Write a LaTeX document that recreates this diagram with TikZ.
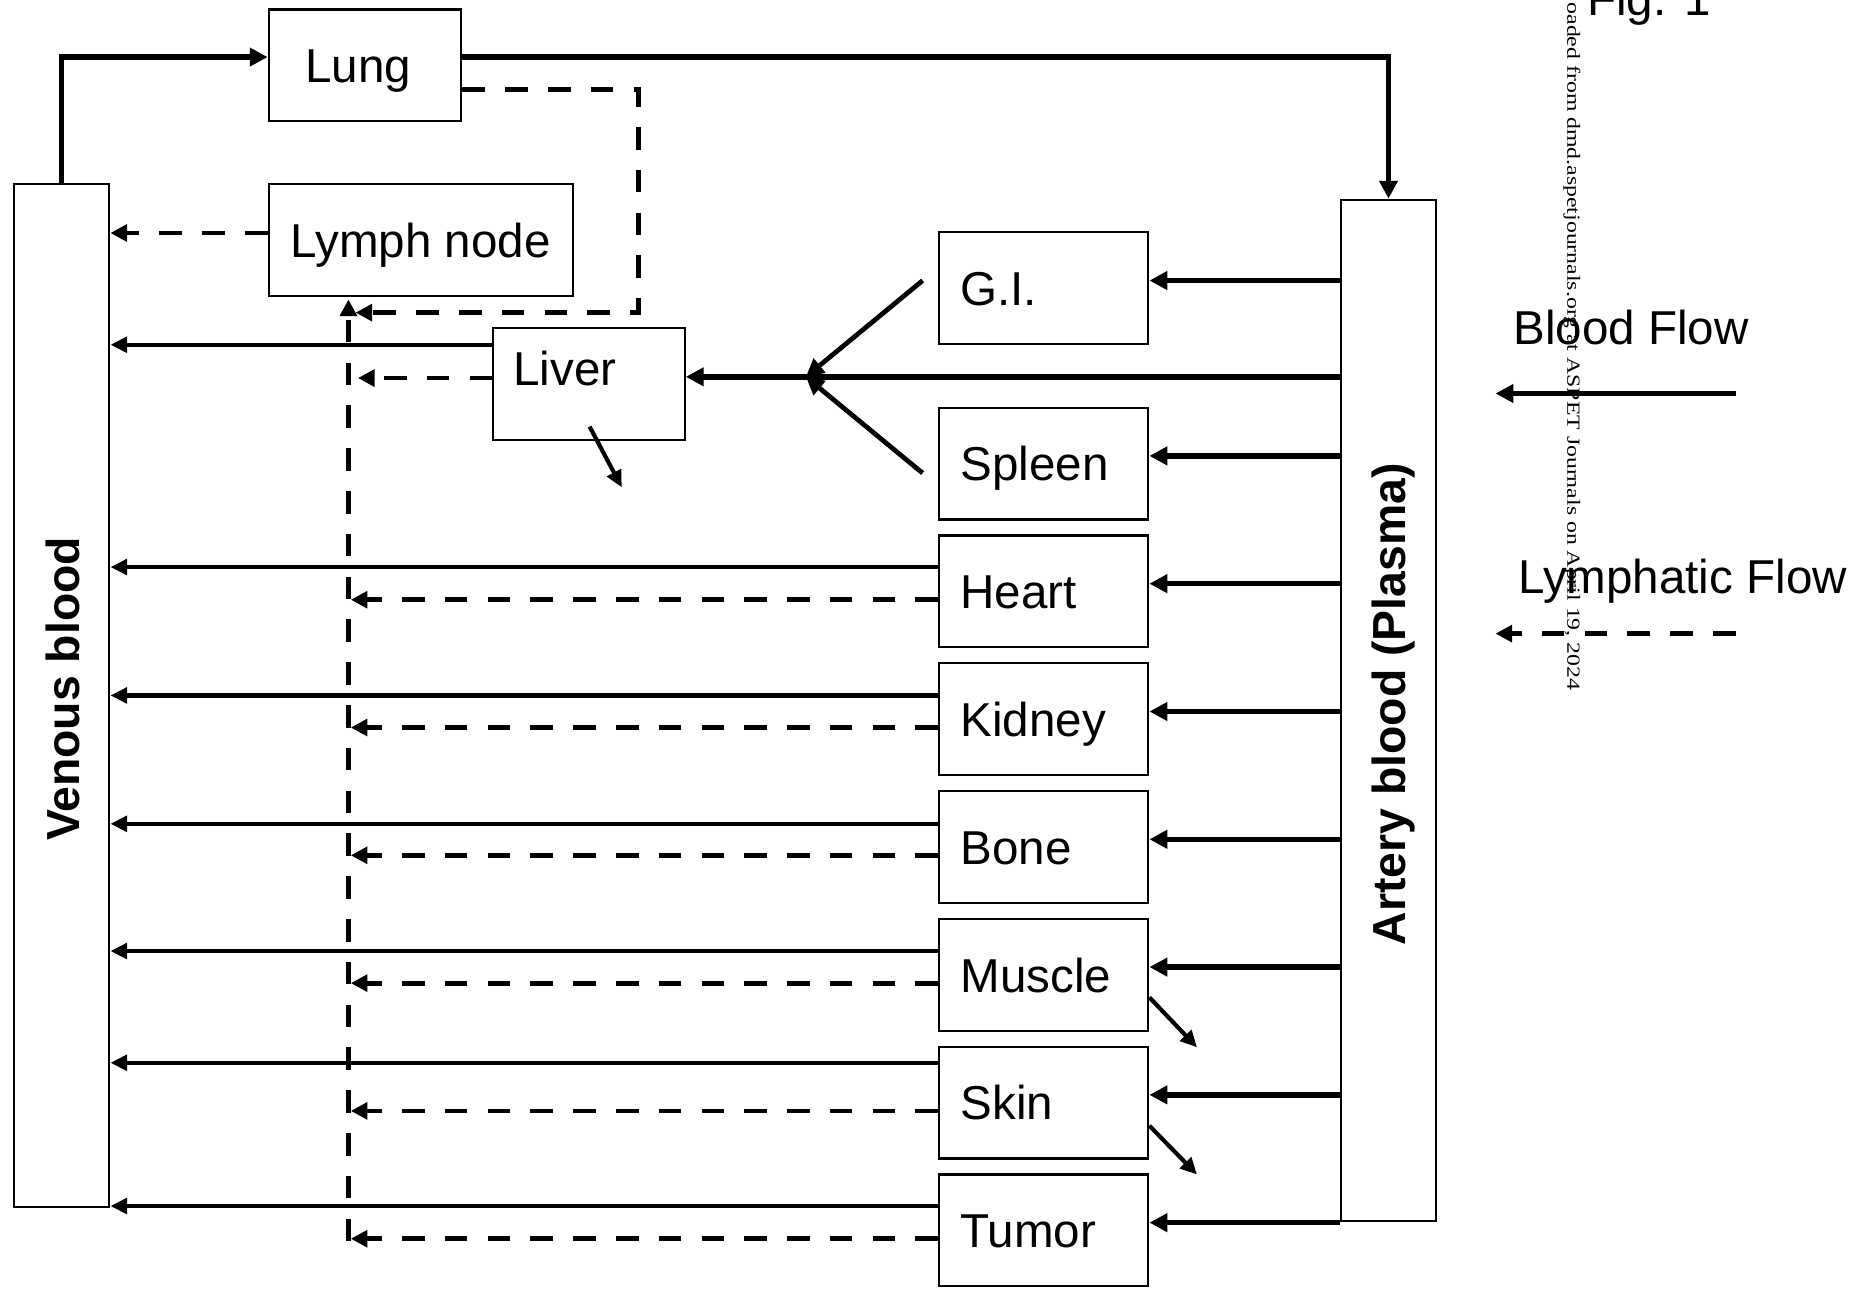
\documentclass[tikz,border=0pt]{standalone}
\usepackage{fontspec}
\setmainfont{Liberation Sans}
\newfontfamily\wmfont{Liberation Serif}
\usetikzlibrary{arrows.meta,calc}
\tikzset{
  every node/.style={font=\fontsize{40}{44}\selectfont, inner sep=0pt},
  box/.style={draw, line width=1.8pt, fill=white},
  organ/.style={box, minimum width=176pt, minimum height=94pt, text width=140pt, align=left, text height=29pt, text depth=0pt},
  art/.style={line width=4.5pt, -{Triangle[length=15pt,width=15pt]}},
  ven/.style={line width=3.5pt, -{Triangle[length=14pt,width=13pt]}},
  lym/.style={line width=4pt, dash pattern=on 19pt off 17pt, -{Triangle[length=14pt,width=14pt]}},
  vlabel/.style={rotate=90, font=\fontsize{39}{44}\selectfont\bfseries, text height=28pt, text depth=0pt},
}
\begin{document}
\begin{tikzpicture}[x=1pt,y=-1pt]
\useasboundingbox (0,0) rectangle (1568,1091);

% tall boxes
\node[box, minimum width=80pt, minimum height=860pt] (venous) at (52,585) {};
\node[box, minimum width=80pt, minimum height=859pt] (artery) at (1168,597.5) {};
\node[vlabel] (venlab) at (52.5,579.5) {Venous blood};
\node[vlabel] (artlab) at (1168,592.5) {Artery blood (Plasma)};

% upper boxes
\node[box, minimum width=162pt, minimum height=94pt, text width=100pt, align=left, text height=29pt, text depth=0pt] (lung) at (307,55) {Lung};
\node[box, minimum width=256pt, minimum height=94pt, text height=29pt, text depth=0pt] (lymph) at (354,202) {Lymph node};
\node[box, minimum width=161pt, minimum height=94pt, text width=127pt, align=left, text height=29pt, text depth=26pt] (liver) at (495.5,323) {Liver};

% organs
\foreach \n/\t/\y in {gi/G.I./242.5, spleen/Spleen/390, heart/Heart/497.5, kidney/Kidney/605, bone/Bone/712.5, muscle/Muscle/820, skin/Skin/927.5, tumor/Tumor/1035}
  \node[organ] (\n) at (878,\y) {\t};

\coordinate (lymcol) at ($(lymph.south west)+(68,0)$);

% venous -> lung -> artery
\coordinate (lungin) at ($(lung.west)+(0,-7)$);
\coordinate (lungout) at ($(lung.east)+(0,-7)$);
\draw[art] (venous.north) |- (lungin);
\draw[art] (lungout) -| (artery.north);

% lung lymph
\coordinate (lunglym) at ($(lung.east)+(0,20)$);
\coordinate (lungturn) at (537,263);
\draw[lym] (lunglym) -| (lungturn) -- ($(lungturn -| lymcol)+(6,0)$);

% lymph node -> venous
\coordinate (lymphV) at ($(lymph.west)+(0,-6)$);
\draw[lym] (lymphV) -- (lymphV -| venous.east);

% liver
\coordinate (liverV) at ($(liver.west)+(0,-33)$);
\draw[ven] (liverV) -- (liverV -| venous.east);
\coordinate (liverL) at ($(liver.west)+(0,-5)$);
\draw[lym] (liverL) -- ($(liverL -| lymcol)+(8,0)$);
\coordinate (liverA) at ($(liver.east)+(0,-6)$);
\draw[art] (liverA -| artery.west) -- (liverA);
\coordinate (junc) at ($(liverA)+(101,0)$);
\coordinate (giout) at ($(gi.west)+(-13,-6.5)$);
\coordinate (splout) at ($(spleen.west)+(-13,8)$);
\draw[art, line width=4pt] (giout) -- (junc);
\draw[art, line width=4pt] (splout) -- (junc);
\coordinate (livs) at ($(liver.south)+(0.5,-12)$);
\coordinate (live) at ($(livs)+(27,51)$);
\draw[ven] (livs) -- (live);

% arterial inputs
\foreach \n in {gi,spleen,heart,kidney,bone,muscle,skin,tumor} {
  \coordinate (\n-a) at ($(\n.east)+(0,-6.5)$);
  \draw[art] (\n-a -| artery.west) -- (\n-a);
}
% venous outputs
\foreach \n/\dy in {heart/-20.5, kidney/-20, bone/-19.5, muscle/-20, skin/-33.5, tumor/-20.5} {
  \coordinate (\n-v) at ($(\n.west)+(0,\dy)$);
  \draw[ven] (\n-v) -- (\n-v -| venous.east);
}
% lymph outputs
\foreach \n in {heart,kidney,bone,muscle,skin,tumor} {
  \coordinate (\n-l) at ($(\n.west)+(0,7)$);
  \draw[lym] (\n-l) -- ($(\n-l -| lymcol)+(2,0)$);
}
% lymph collector
\draw[lym] ($(tumor-l -| lymcol)+(0,2)$) -- ($(lymcol)+(0,2)$);

% small elimination arrows
\coordinate (mus) at ($(muscle.east)+(0,19)$);
\coordinate (mue) at ($(mus)+(40,42)$);
\draw[ven] (mus) -- (mue);
\coordinate (sks) at ($(skin.east)+(0,19.5)$);
\coordinate (ske) at ($(sks)+(40,41)$);
\draw[ven] (sks) -- (ske);

% legend
\node[anchor=base west] (bflab) at (1273,289.5) {Blood Flow};
\coordinate (bfs) at (1460,331);
\coordinate (bfe) at (1258,331);
\draw[art] (bfs) -- (bfe);
\node[anchor=base west] (lflab) at (1277,499) {Lymphatic Flow};
\coordinate (lfs) at (1460,533);
\coordinate (lfe) at (1258,533);
\draw[lym] (lfs) -- (lfe);

% figure label and watermark
\node[anchor=base west] (fig) at (1335,13) {Fig. 1};
\node[rotate=-90, anchor=base west, font=\wmfont\fontsize{20}{24}\selectfont] (wm) at (1318.5,2) {\scalebox{1}[0.78]{oaded from dmd.aspetjournals.org at ASPET Journals on April 19, 2024}};
\end{tikzpicture}
\end{document}
